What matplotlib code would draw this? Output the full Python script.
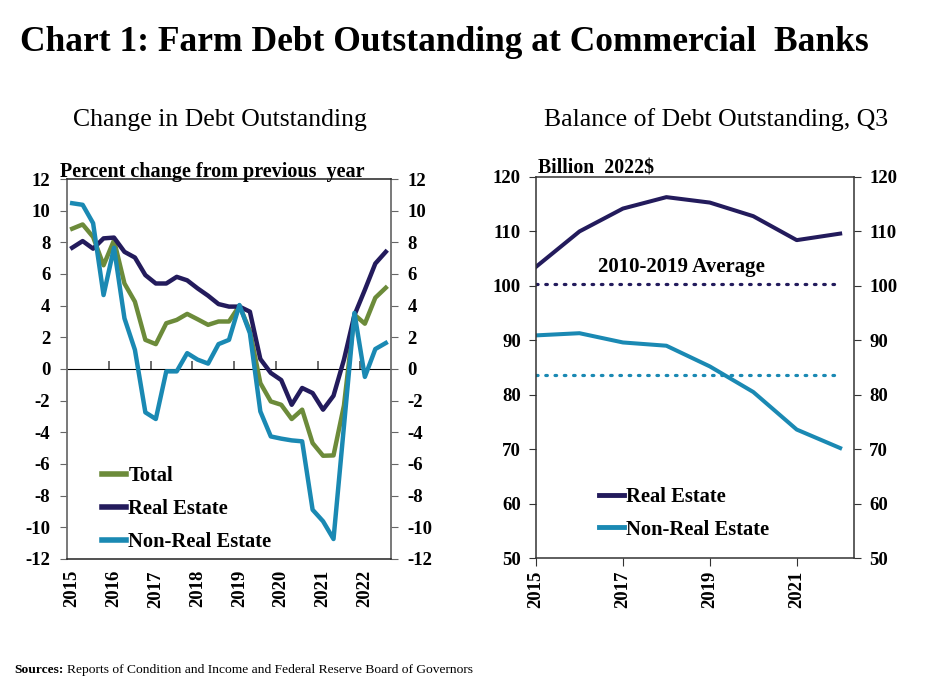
import matplotlib
matplotlib.use("Agg")
import matplotlib.pyplot as plt
import numpy as np

plt.rcParams['font.family'] = ['Liberation Serif', 'DejaVu Serif']

# ---------------- data ----------------
# Left panel: quarterly, 2015Q1 .. 2022Q3 (percent change from previous year)
quarters = [f"{y}Q{q}" for y in range(2015, 2023) for q in range(1, 5)][:31]
total = [8.86, 9.13, 8.34, 6.55, 8.13, 5.40, 4.25, 1.84, 1.57, 2.89, 3.10, 3.48,
         3.14, 2.79, 3.00, 3.00, 4.00, 2.40, -0.89, -2.05, -2.26, -3.16, -2.57,
         -4.68, -5.48, -5.46, -2.30, 3.43, 2.86, 4.50, 5.13]
real_estate = [7.66, 8.08, 7.60, 8.25, 8.30, 7.40, 7.04, 5.93, 5.40, 5.40, 5.82,
               5.60, 5.09, 4.63, 4.10, 3.94, 3.94, 3.62, 0.63, -0.25, -0.70,
               -2.26, -1.20, -1.52, -2.57, -1.69, 0.59, 3.40, 5.00, 6.66, 7.40]
non_real_estate = [10.47, 10.37, 9.21, 4.67, 7.66, 3.20, 1.21, -2.74, -3.16,
                   -0.15, -0.15, 1.00, 0.59, 0.34, 1.57, 1.84, 4.04, 2.26, -2.68,
                   -4.26, -4.40, -4.51, -4.57, -8.89, -9.62, -10.74, -3.60, 3.54,
                   -0.50, 1.26, 1.64]
left_year_labels = [str(y) for y in range(2015, 2023)]
left_yticks = list(range(-12, 13, 2))

# Right panel: annual Q3 balances, billion 2022$
years = [2015, 2016, 2017, 2018, 2019, 2020, 2021, 2022]
re_balance = [103.5, 110.0, 114.2, 116.3, 115.3, 112.8, 108.4, 109.6]
nre_balance = [90.9, 91.3, 89.6, 89.0, 85.2, 80.5, 73.6, 70.2]
re_avg = 100.4
nre_avg = 83.7
right_xticks = [2015, 2017, 2019, 2021]
right_yticks = list(range(50, 121, 10))

# ---------------- style ----------------
NAVY = '#231B5C'
OLIVE = '#6C8B3A'
TEAL = '#1A89B3'
LW = 3.2
TICKFS = 13.5
LEGFS = 14.8

fig = plt.figure(figsize=(9.25, 6.93), dpi=100)

fig.text(0.022, 0.938, "Chart 1: Farm Debt Outstanding at Commercial  Banks",
         fontsize=25.5, fontweight='bold', ha='left', va='center')
fig.text(0.238, 0.827, "Change in Debt Outstanding", fontsize=18.5,
         ha='center', va='center')
fig.text(0.774, 0.827, "Balance of Debt Outstanding, Q3", fontsize=18.5,
         ha='center', va='center')
fig.text(0.016, 0.033, "Sources:", fontsize=9.7, fontweight='bold',
         ha='left', va='center')
fig.text(0.0725, 0.033, "Reports of Condition and Income and Federal Reserve Board of Governors",
         fontsize=9.7, ha='left', va='center')

# ---------------- left panel ----------------
axL = fig.add_axes([0.0724, 0.1934, 0.3503, 0.5483])
x = np.arange(len(quarters))
axL.plot(x, total, color=OLIVE, lw=LW, label='Total')
axL.plot(x, real_estate, color=NAVY, lw=LW, label='Real Estate')
axL.plot(x, non_real_estate, color=TEAL, lw=LW, label='Non-Real Estate')
axL.set_xlim(-0.5, len(quarters) - 0.5)
axL.set_ylim(-12, 12)
axL.set_yticks(left_yticks)
axL.set_yticklabels([str(v) for v in left_yticks], fontsize=TICKFS, fontweight='bold')
axL.tick_params(axis='y', direction='out', length=5, color='#666666',
                left=True, right=True, labelleft=True, labelright=True, pad=7)
axL.set_xticks(np.arange(0, len(quarters), 4))
axL.set_xticklabels(left_year_labels, rotation=90, fontsize=TICKFS, fontweight='bold')
axL.tick_params(axis='x', length=0, pad=8)
for s in ['left', 'right']:
    axL.spines[s].set_color('#6e6e6e')
    axL.spines[s].set_linewidth(1.3)
for s in ['top', 'bottom']:
    axL.spines[s].set_color('#222222')
    axL.spines[s].set_linewidth(1.1)
# zero axis with year tick marks
sec = axL.secondary_xaxis(0.5)
sec_ticks = np.arange(-0.5, len(quarters), 4)[1:]
sec.set_xticks(sec_ticks, labels=[''] * len(sec_ticks))
sec.tick_params(axis='x', direction='out', length=6, color='#444444', width=1.1)
sec.spines['bottom'].set_color('#555555')
sec.spines['bottom'].set_linewidth(1.1)
axL.text(-0.022, 0.993, "Percent change from previous  year", transform=axL.transAxes,
         fontsize=14.5, fontweight='bold', ha='left', va='bottom')
legL = axL.legend(loc='lower left', bbox_to_anchor=(0.05, -0.03), frameon=False,
                  prop={'size': LEGFS, 'weight': 'bold'}, handlelength=1.2,
                  handletextpad=0.1, labelspacing=0.62)
for h in legL.get_lines():
    h.set_linewidth(4)

# ---------------- right panel ----------------
axR = fig.add_axes([0.5795, 0.1948, 0.3438, 0.5498])
axR.plot(years, re_balance, color=NAVY, lw=LW - 0.3, label='Real Estate')
axR.plot(years, nre_balance, color=TEAL, lw=LW - 0.3, label='Non-Real Estate')
axR.plot([years[0], years[-1]], [re_avg, re_avg], color=NAVY, lw=2.3,
         linestyle=(0, (0.5, 2.4)), dash_capstyle='round')
axR.plot([years[0], years[-1]], [nre_avg, nre_avg], color=TEAL, lw=2.3,
         linestyle=(0, (0.5, 2.4)), dash_capstyle='round')
axR.set_xlim(2015, 2022.32)
axR.set_ylim(50, 120)
axR.set_yticks(right_yticks)
axR.set_yticklabels([str(v) for v in right_yticks], fontsize=TICKFS, fontweight='bold')
axR.tick_params(axis='y', direction='out', length=5, left=True, right=True,
                labelleft=True, labelright=True, pad=6, color='#333333')
axR.set_xticks(right_xticks)
axR.set_xticklabels([str(v) for v in right_xticks], rotation=90, fontsize=TICKFS,
                    fontweight='bold')
axR.tick_params(axis='x', direction='out', length=6, pad=3, color='#333333')
for s in axR.spines.values():
    s.set_color('#333333')
    s.set_linewidth(1.1)
axR.text(0.005, 0.995, "Billion  2022$", transform=axR.transAxes,
         fontsize=14.2, fontweight='bold', ha='left', va='bottom')
axR.text(2018.35, re_avg + 3.0, "2010-2019 Average", fontsize=15,
         fontweight='bold', ha='center', va='center')
legR = axR.legend(loc='lower left', bbox_to_anchor=(0.14, 0.0), frameon=False,
                  prop={'size': LEGFS, 'weight': 'bold'}, handlelength=1.2,
                  handletextpad=0.1, labelspacing=0.62)
for h in legR.get_lines():
    h.set_linewidth(3.5)

fig.savefig("out.png", dpi=100)
